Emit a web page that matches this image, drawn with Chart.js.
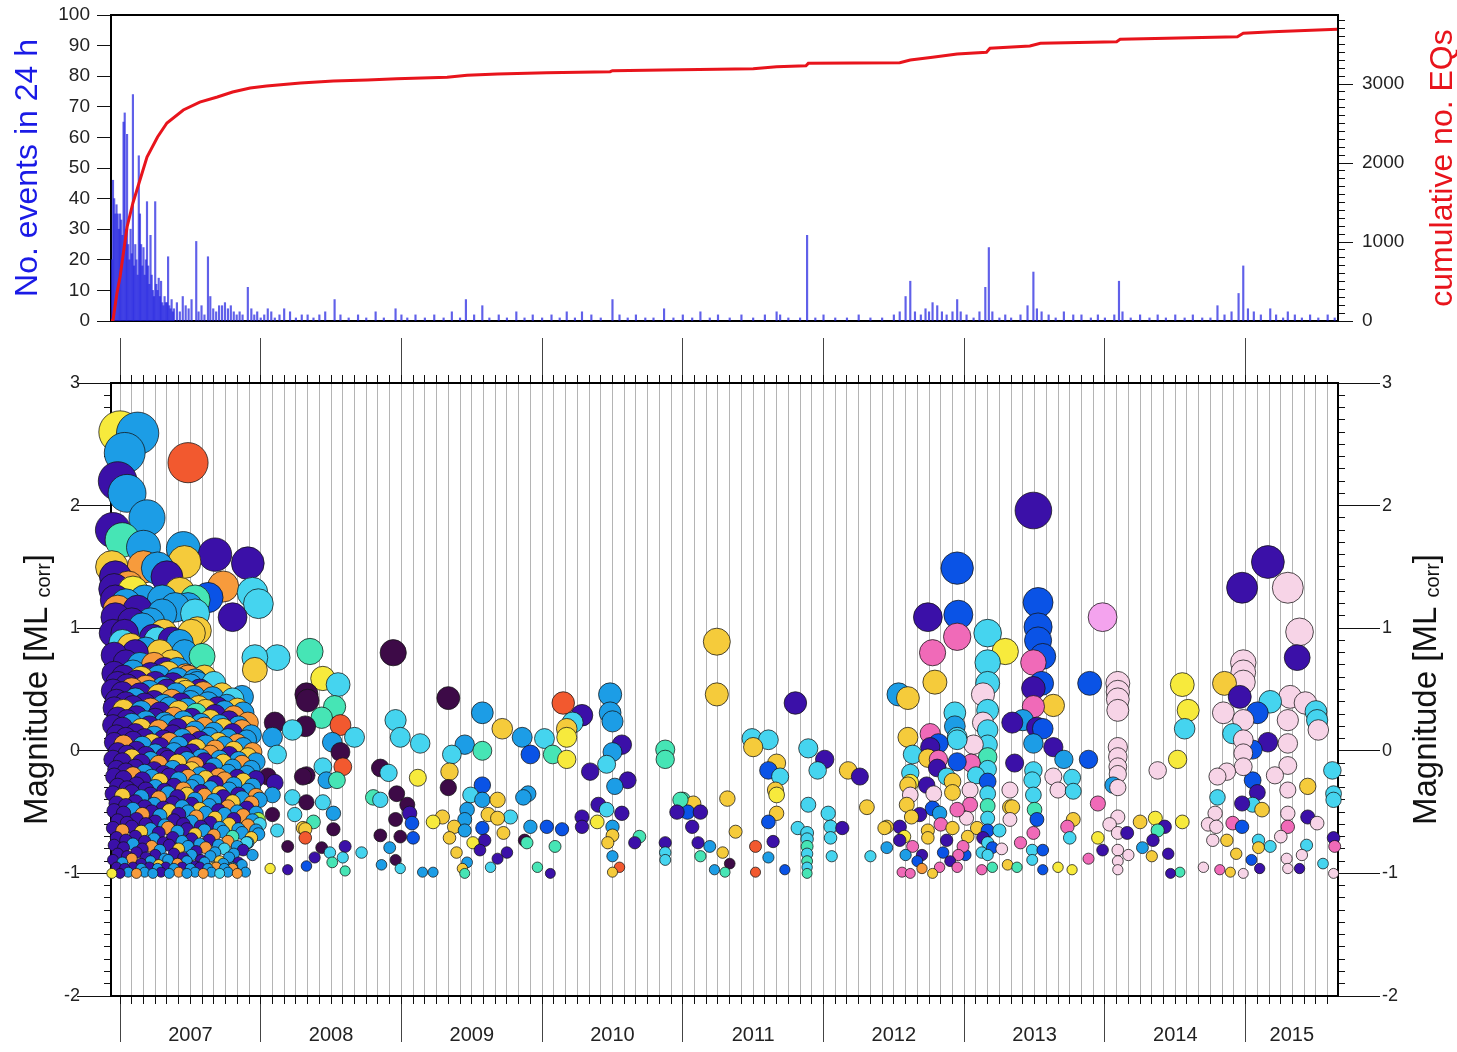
<!DOCTYPE html>
<html>
<head>
<meta charset="utf-8">
<title>Seismicity 2007-2015</title>
<script src="https://cdn.jsdelivr.net/npm/chart.js@4.4.1/dist/chart.umd.min.js"></script>
<style>
  html, body { margin: 0; padding: 0; background: #fff; }
  #wrap { position: relative; width: 1457px; height: 1052px; }
  #countsBox { position: absolute; left: 0; top: 0; width: 1457px; height: 330px; }
  #magBox { position: absolute; left: 0; top: 330px; width: 1457px; height: 722px; }
</style>
</head>
<body>
<div id="wrap">
  <div id="countsBox"><canvas id="countsChart"></canvas></div>
  <div id="magBox"><canvas id="magChart"></canvas></div>
</div>
<script>
(function () {
  "use strict";

  // time axis is in months since 1 Jan 2007
  const X_MIN = -0.77;
  const X_MAX = 103.88;
  const Y2_MAX = 3874;

  const yearLabels = ["2007", "2008", "2009", "2010", "2011", "2012", "2013", "2014", "2015"];
  const countTicks = [0, 10, 20, 30, 40, 50, 60, 70, 80, 90, 100];
  const cumulativeTicks = [0, 1000, 2000, 3000];
  const magnitudeTicks = [-2, -1, 0, 1, 2, 3];

  // events in 24 h: [month, count]
  const dailyCounts = [
    [-0.7,20],[-0.6,46],[-0.5,40],[-0.4,35],[-0.3,38],[-0.2,35],[-0.1,30],[0.0,35],[0.1,33],[0.2,28],
    [0.3,65],[0.4,68],[0.5,30],[0.6,61],[0.7,25],[0.8,20],[0.9,30],[1.0,22],[1.1,74],[1.2,18],
    [1.3,25],[1.4,20],[1.5,15],[1.6,54],[1.7,35],[1.8,25],[1.9,18],[2.0,24],[2.1,15],[2.2,20],
    [2.3,39],[2.4,18],[2.5,12],[2.6,28],[2.7,15],[2.8,10],[2.9,8],[3.0,39],[3.1,12],[3.2,10],
    [3.3,14],[3.4,8],[3.5,13],[3.6,6],[3.7,5],[3.8,8],[3.9,6],[4.0,6],[4.1,21],[4.2,5],
    [4.3,4],[4.4,7],[4.5,3],[4.6,4],[4.85,6],[5.1,3],[5.35,8],[5.6,5],[5.85,4],[6.1,7],
    [6.5,26],[6.7,3],[6.95,5],[7.2,2],[7.5,21],[7.7,8],[7.95,4],[8.2,3],[8.45,5],[8.7,5],
    [8.95,6],[9.2,4],[9.45,5],[9.7,3],[9.95,2],[10.2,3],[10.45,2],[10.9,11],[11.2,4],[11.45,2],
    [11.7,3],[12.0,1],[12.3,2],[12.6,4],[12.9,3],[13.2,1],[13.6,2],[14.0,4],[14.5,3],[15.0,1],
    [15.5,2],[16.0,2],[16.5,1],[17.0,2],[17.5,3],[18.3,7],[18.8,2],[19.5,1],[20.3,2],[21.0,1],
    [21.8,3],[22.5,1],[23.5,4],[24.0,2],[24.5,1],[25.2,2],[26.0,1],[26.8,2],[27.6,1],[28.3,3],
    [29.0,1],[29.5,7],[30.2,2],[30.9,5],[31.5,1],[32.3,2],[33.0,1],[33.8,3],[34.5,1],[35.2,2],
    [36.0,1],[36.8,2],[37.5,1],[38.1,3],[38.8,1],[39.4,3],[40.2,2],[41.0,1],[42.0,7],[42.6,2],
    [43.3,1],[44.0,2],[44.8,1],[45.5,1],[46.4,4],[47.2,1],[48.0,2],[48.8,1],[49.5,3],[50.3,1],
    [51.0,2],[52.0,1],[53.0,2],[54.0,1],[55.0,2],[56.0,3],[56.3,2],[57.0,1],[58.0,1],[58.6,28],
    [59.3,1],[60.0,2],[61.0,1],[62.0,1],[63.0,2],[64.0,1],[65.0,1],[66.0,2],[66.5,3],[67.0,8],
    [67.4,13],[67.8,3],[68.3,2],[68.7,4],[69.0,3],[69.3,6],[69.7,5],[70.1,3],[70.5,2],[71.0,3],
    [71.4,7],[71.7,3],[72.2,2],[72.8,1],[73.3,3],[73.8,11],[74.1,24],[74.4,3],[75.0,1],[75.5,2],
    [76.0,1],[76.8,2],[77.4,5],[77.9,16],[78.2,4],[78.6,3],[79.2,2],[79.8,1],[80.5,3],[81.3,2],
    [82.0,2],[82.8,1],[83.4,2],[84.0,1],[84.8,2],[85.2,13],[85.5,3],[86.2,1],[87.0,2],[87.8,1],
    [88.5,2],[89.2,1],[90.0,2],[90.8,1],[91.5,2],[92.3,1],[93.0,1],[93.6,5],[94.2,2],[94.8,3],
    [95.4,9],[95.8,18],[96.2,4],[96.7,3],[97.3,2],[98.1,4],[98.6,2],[99.2,1],[99.6,3],[100.2,2],
    [100.8,1],[101.5,2],[102.2,1],[103.0,2],[103.6,1]
  ];

  // cumulative number of earthquakes: [month, total]
  const cumulativeCount = [
    [-0.77,0],[-0.6,13],[-0.26,354],[0.0,557],[0.6,1190],[1.1,1494],[1.7,1785],[2.3,2076],
    [3.2,2330],[4.0,2507],[5.4,2671],[6.8,2772],[8.3,2836],[9.6,2899],[11.1,2950],[12.5,2975],
    [15.4,3013],[18.2,3038],[21.1,3051],[23.6,3068],[27.9,3085],[29.6,3110],[32.2,3127],
    [36.4,3143],[41.8,3156],[42.0,3169],[46.3,3178],[54.0,3194],[56.0,3219],[58.5,3232],
    [58.7,3262],[66.5,3270],[67.4,3304],[69.3,3338],[71.4,3380],[73.9,3402],[74.2,3452],
    [77.6,3481],[78.5,3515],[85.0,3536],[85.3,3566],[95.3,3599],[95.8,3642],[98.3,3663],[103.8,3693]
  ];

  // events: [month, magnitude, colour class]
  const quakes2007 = [
    [0.0,2.6,"Y"],[1.5,2.59,"S"],[0.4,2.43,"S"],[5.8,2.35,"R"],[-0.2,2.2,"I"],[0.6,2.1,"S"],
    [2.3,1.9,"S"],[-0.6,1.8,"I"],[0.2,1.72,"A"],[2.0,1.66,"S"],[5.4,1.65,"S"],[5.5,1.54,"G"],
    [8.1,1.6,"I"],[10.9,1.53,"I"],[-0.7,1.5,"G"],[3.2,1.49,"S"],[2.0,1.5,"O"],[-0.4,1.42,"I"],
    [4.0,1.42,"I"],[8.8,1.34,"O"],[0.7,1.34,"O"],[1.1,1.3,"Y"],[-0.5,1.32,"I"],[5.1,1.29,"G"],
    [11.3,1.29,"C"],[7.5,1.25,"B"],[6.4,1.23,"A"],[-0.4,1.23,"I"],[2.1,1.23,"S"],[3.6,1.23,"S"],
    [11.8,1.2,"C"],[0.5,1.2,"S"],[5.8,1.17,"S"],[4.7,1.17,"S"],[-0.2,1.15,"O"],[1.5,1.15,"I"],
    [6.4,1.12,"C"],[3.6,1.12,"S"],[9.6,1.09,"I"],[-0.4,1.09,"I"],[2.6,1.05,"S"],[1.0,1.05,"I"],
    [1.9,1.01,"S"],[6.6,0.98,"G"],[6.1,0.96,"G"],[3.7,0.96,"G"],[-0.6,0.96,"I"],[0.4,0.96,"I"],
    [2.8,0.92,"I"],[3.2,0.9,"C"],[4.4,0.9,"I"],[5.1,0.88,"S"],[0.2,0.88,"C"],[0.9,0.85,"G"],
    [2.2,0.82,"S"],[5.5,0.8,"S"],[3.4,0.8,"G"],[1.3,0.8,"I"],[-0.5,0.78,"I"],[7.0,0.77,"A"],
    [11.5,0.76,"C"],[4.4,0.72,"G"],[0.5,0.72,"I"],[1.7,0.7,"S"],[2.9,0.7,"O"],[3.8,0.66,"I"],
    [4.9,0.66,"S"],[11.5,0.66,"G"],[5.8,0.6,"O"],[6.6,0.55,"S"],
    [-0.5,0.63,"I"],[0.3,0.6,"I"],[1.1,0.64,"S"],[1.8,0.59,"G"],[2.6,0.62,"I"],[3.3,0.6,"S"],
    [4.1,0.63,"G"],[4.9,0.58,"S"],[5.6,0.61,"O"],[6.4,0.57,"S"],[7.2,0.6,"G"],[8.0,0.55,"C"],
    [-0.6,0.49,"I"],[0.2,0.47,"I"],[1.0,0.5,"O"],[1.7,0.46,"I"],[2.5,0.48,"S"],[3.3,0.45,"G"],
    [4.0,0.49,"I"],[4.8,0.46,"S"],[5.6,0.48,"G"],[6.3,0.44,"S"],[7.1,0.47,"O"],[7.9,0.43,"S"],
    [8.7,0.46,"G"],[9.6,0.42,"C"],[10.4,0.44,"S"],
    [-0.5,0.35,"I"],[0.3,0.33,"G"],[1.1,0.36,"I"],[1.8,0.32,"S"],[2.6,0.34,"O"],[3.4,0.31,"I"],
    [4.2,0.35,"S"],[5.0,0.32,"G"],[5.7,0.34,"S"],[6.5,0.3,"A"],[7.3,0.33,"G"],[8.1,0.29,"I"],
    [8.9,0.32,"S"],[9.7,0.28,"O"],[10.5,0.31,"S"],
    [-0.6,0.21,"I"],[0.2,0.19,"I"],[1.0,0.22,"S"],[1.8,0.18,"G"],[2.5,0.2,"I"],[3.3,0.17,"O"],
    [4.1,0.21,"S"],[4.9,0.18,"I"],[5.7,0.2,"G"],[6.4,0.16,"S"],[7.2,0.19,"O"],[8.0,0.15,"S"],
    [8.8,0.18,"G"],[9.6,0.14,"I"],[10.4,0.17,"O"],[11.2,0.13,"S"],
    [-0.5,0.07,"I"],[0.3,0.05,"O"],[1.1,0.08,"I"],[1.9,0.04,"S"],[2.7,0.06,"G"],[3.4,0.03,"I"],
    [4.2,0.07,"O"],[5.0,0.04,"S"],[5.8,0.06,"I"],[6.5,0.02,"G"],[7.3,0.05,"S"],[8.1,0.01,"O"],
    [8.9,0.04,"S"],[9.7,0.0,"G"],[10.5,0.03,"S"],[11.3,-0.01,"O"],
    [-0.6,-0.07,"I"],[0.2,-0.09,"I"],[1.0,-0.06,"G"],[1.8,-0.1,"I"],[2.6,-0.08,"S"],[3.3,-0.11,"O"],
    [4.1,-0.07,"I"],[4.9,-0.1,"G"],[5.7,-0.08,"S"],[6.4,-0.12,"O"],[7.2,-0.09,"I"],[8.0,-0.13,"S"],
    [8.8,-0.1,"G"],[9.6,-0.14,"S"],[10.4,-0.11,"O"],[11.2,-0.15,"S"],
    [-0.5,-0.21,"I"],[0.3,-0.23,"I"],[1.1,-0.2,"O"],[1.9,-0.24,"I"],[2.7,-0.22,"S"],[3.4,-0.25,"G"],
    [4.2,-0.21,"I"],[5.0,-0.24,"S"],[5.8,-0.22,"O"],[6.5,-0.26,"S"],[7.3,-0.23,"G"],[8.1,-0.27,"I"],
    [8.9,-0.24,"O"],[9.7,-0.28,"S"],[10.5,-0.25,"G"],[11.3,-0.29,"S"],
    [-0.6,-0.35,"I"],[0.2,-0.37,"G"],[1.0,-0.34,"I"],[1.8,-0.38,"S"],[2.6,-0.36,"I"],[3.3,-0.39,"O"],
    [4.1,-0.35,"S"],[4.9,-0.38,"I"],[5.7,-0.36,"G"],[6.4,-0.4,"S"],[7.2,-0.37,"O"],[8.0,-0.41,"S"],
    [8.8,-0.38,"I"],[9.6,-0.42,"G"],[10.4,-0.39,"S"],[11.2,-0.43,"O"],[11.9,-0.4,"S"],
    [-0.5,-0.49,"I"],[0.3,-0.51,"I"],[1.1,-0.48,"S"],[1.9,-0.52,"O"],[2.7,-0.5,"I"],[3.4,-0.53,"S"],
    [4.2,-0.49,"G"],[5.0,-0.52,"I"],[5.8,-0.5,"S"],[6.5,-0.54,"O"],[7.3,-0.51,"S"],[8.1,-0.55,"G"],
    [8.9,-0.52,"S"],[9.7,-0.56,"I"],[10.5,-0.53,"O"],[11.3,-0.57,"S"],[11.9,-0.6,"C"],
    [-0.6,-0.63,"I"],[0.2,-0.65,"O"],[1.0,-0.62,"I"],[1.8,-0.66,"G"],[2.6,-0.64,"S"],[3.3,-0.67,"I"],
    [4.1,-0.63,"O"],[4.9,-0.66,"S"],[5.7,-0.64,"I"],[6.4,-0.68,"G"],[7.2,-0.65,"S"],[8.0,-0.69,"O"],
    [8.8,-0.66,"S"],[9.6,-0.7,"A"],[10.4,-0.67,"S"],[11.2,-0.71,"G"],[11.8,-0.68,"S"],
    [-0.5,-0.77,"I"],[0.3,-0.79,"I"],[1.1,-0.76,"S"],[1.9,-0.8,"I"],[2.7,-0.78,"O"],[3.4,-0.81,"S"],
    [4.2,-0.77,"I"],[5.0,-0.8,"G"],[5.8,-0.78,"S"],[6.5,-0.82,"I"],[7.3,-0.79,"O"],[8.1,-0.83,"S"],
    [8.9,-0.8,"C"],[9.7,-0.84,"S"],[10.5,-0.81,"I"],[11.3,-0.85,"S"],
    [-0.6,-0.89,"I"],[0.2,-0.91,"S"],[1.0,-0.88,"O"],[1.8,-0.92,"I"],[2.6,-0.9,"S"],[3.3,-0.93,"G"],
    [4.1,-0.89,"S"],[4.9,-0.92,"O"],[5.7,-0.9,"S"],[6.4,-0.94,"I"],[7.2,-0.91,"S"],[8.0,-0.95,"G"],
    [8.8,-0.92,"S"],[9.6,-0.96,"O"],[10.4,-0.93,"S"],
    [0.0,-1.0,"I"],[0.7,-0.99,"S"],[1.4,-1.0,"O"],[2.1,-0.99,"S"],[2.8,-1.0,"S"],[3.5,-0.99,"I"],
    [4.2,-1.0,"S"],[5.0,-0.99,"O"],[5.7,-1.0,"S"],[6.4,-0.99,"S"],[7.1,-1.0,"O"],[7.8,-0.99,"S"],
    [8.5,-1.0,"C"],[9.2,-0.99,"S"],[10.0,-1.0,"O"],[10.7,-0.99,"S"],[-0.7,-1.0,"Y"],
    [11.8,-0.56,"N"],[10.9,-0.75,"S"]
  ];

  // the dense aftershock swarm in early 2007, in between the rows above
  const quakes2007Swarm = [
    [-0.2,0.55,"I"],[0.6,0.53,"I"],[1.4,0.56,"I"],[2.2,0.52,"O"],[3.0,0.55,"I"],[3.7,0.51,"S"],
    [4.5,0.54,"I"],[5.3,0.5,"G"],[6.0,0.53,"S"],[6.8,0.49,"I"],
    [-0.3,0.41,"I"],[0.5,0.39,"I"],[1.3,0.42,"S"],[2.1,0.38,"I"],[2.9,0.4,"I"],[3.7,0.37,"S"],
    [4.4,0.41,"O"],[5.2,0.38,"I"],[6.0,0.4,"S"],[6.7,0.36,"G"],[7.5,0.39,"S"],[8.3,0.35,"I"],
    [9.1,0.37,"S"],[10.0,0.34,"G"],
    [-0.2,0.27,"I"],[0.6,0.25,"I"],[1.4,0.28,"I"],[2.2,0.24,"S"],[3.0,0.26,"I"],[3.8,0.23,"S"],
    [4.6,0.27,"O"],[5.4,0.24,"S"],[6.1,0.26,"I"],[6.9,0.22,"S"],[7.7,0.25,"G"],[8.5,0.21,"S"],
    [9.3,0.24,"I"],[10.1,0.2,"S"],[10.9,0.23,"O"],
    [-0.3,0.13,"I"],[0.5,0.11,"I"],[1.3,0.14,"I"],[2.1,0.1,"I"],[2.9,0.12,"S"],[3.7,0.09,"I"],
    [4.5,0.13,"I"],[5.3,0.1,"S"],[6.1,0.12,"O"],[6.8,0.08,"I"],[7.6,0.11,"S"],[8.4,0.07,"G"],
    [9.2,0.1,"S"],[10.0,0.06,"O"],[10.8,0.09,"S"],
    [-0.2,-0.01,"I"],[0.6,-0.03,"I"],[1.4,0.0,"I"],[2.2,-0.04,"I"],[3.0,-0.02,"S"],[3.8,-0.05,"I"],
    [4.6,-0.01,"S"],[5.4,-0.04,"I"],[6.1,-0.02,"I"],[6.9,-0.06,"S"],[7.7,-0.03,"O"],[8.5,-0.07,"S"],
    [9.3,-0.04,"I"],[10.1,-0.08,"S"],[10.9,-0.05,"G"],[11.6,-0.09,"S"],
    [-0.3,-0.15,"I"],[0.5,-0.17,"I"],[1.3,-0.14,"I"],[2.1,-0.18,"S"],[2.9,-0.16,"I"],[3.7,-0.19,"I"],
    [4.5,-0.15,"S"],[5.3,-0.18,"I"],[6.1,-0.16,"G"],[6.8,-0.2,"S"],[7.6,-0.17,"I"],[8.4,-0.21,"O"],
    [9.2,-0.18,"S"],[10.0,-0.22,"I"],[10.8,-0.19,"S"],[11.6,-0.23,"I"],
    [-0.2,-0.29,"I"],[0.6,-0.31,"I"],[1.4,-0.28,"I"],[2.2,-0.32,"I"],[3.0,-0.3,"S"],[3.8,-0.33,"I"],
    [4.6,-0.29,"I"],[5.4,-0.32,"O"],[6.1,-0.3,"S"],[6.9,-0.34,"I"],[7.7,-0.31,"S"],[8.5,-0.35,"G"],
    [9.3,-0.32,"S"],[10.1,-0.36,"I"],[10.9,-0.33,"S"],[11.6,-0.37,"O"],
    [-0.3,-0.43,"I"],[0.5,-0.45,"I"],[1.3,-0.42,"I"],[2.1,-0.46,"I"],[2.9,-0.44,"S"],[3.7,-0.47,"I"],
    [4.5,-0.43,"I"],[5.3,-0.46,"S"],[6.1,-0.44,"I"],[6.8,-0.48,"G"],[7.6,-0.45,"S"],[8.4,-0.49,"I"],
    [9.2,-0.46,"O"],[10.0,-0.5,"S"],[10.8,-0.47,"I"],[11.6,-0.51,"S"],
    [-0.2,-0.57,"I"],[0.6,-0.59,"I"],[1.4,-0.56,"I"],[2.2,-0.6,"I"],[3.0,-0.58,"I"],[3.8,-0.61,"S"],
    [4.6,-0.57,"I"],[5.4,-0.6,"I"],[6.1,-0.58,"S"],[6.9,-0.62,"I"],[7.7,-0.59,"I"],[8.5,-0.63,"S"],
    [9.3,-0.6,"G"],[10.1,-0.64,"S"],[10.9,-0.61,"O"],[11.6,-0.65,"S"],
    [-0.3,-0.71,"I"],[0.5,-0.73,"I"],[1.3,-0.7,"I"],[2.1,-0.74,"I"],[2.9,-0.72,"S"],[3.7,-0.75,"I"],
    [4.5,-0.71,"I"],[5.3,-0.74,"S"],[6.1,-0.72,"I"],[6.8,-0.76,"S"],[7.6,-0.73,"I"],[8.4,-0.77,"S"],
    [9.2,-0.74,"O"],[10.0,-0.78,"S"],[10.8,-0.75,"C"],
    [-0.2,-0.84,"I"],[0.6,-0.86,"I"],[1.4,-0.83,"I"],[2.2,-0.87,"I"],[3.0,-0.85,"I"],[3.8,-0.88,"S"],
    [4.6,-0.84,"I"],[5.4,-0.87,"I"],[6.1,-0.85,"S"],[6.9,-0.89,"I"],[7.7,-0.86,"S"],[8.5,-0.9,"G"],
    [9.3,-0.87,"S"],[10.1,-0.91,"I"],
    [-0.3,-0.95,"I"],[0.4,-0.96,"I"],[1.1,-0.95,"I"],[1.8,-0.96,"S"],[2.5,-0.95,"I"],[3.2,-0.96,"S"],
    [3.9,-0.95,"I"],[4.6,-0.96,"S"],[5.3,-0.95,"I"],[6.0,-0.96,"S"],[6.8,-0.95,"I"],[7.5,-0.96,"S"],
    [8.2,-0.95,"O"],[8.9,-0.96,"S"],[9.6,-0.95,"S"]
  ];

  const quakes2008 = [
    [16.2,0.81,"A"],[17.3,0.59,"Y"],[18.6,0.54,"C"],[15.9,0.46,"P"],[18.3,0.36,"A"],[17.2,0.27,"A"],
    [18.8,0.21,"R"],[15.8,0.2,"P"],[18.1,0.07,"S"],[20.0,0.11,"C"],[18.8,-0.01,"P"],[19.0,-0.13,"R"],
    [17.6,-0.24,"S"],[15.9,-0.2,"P"],[18.5,-0.24,"A"],[17.3,-0.13,"C"],[15.9,-0.42,"P"],[17.3,-0.42,"C"],
    [18.2,-0.51,"S"],[18.2,-0.64,"P"],[16.5,-0.58,"A"],[15.8,-0.64,"G"],[15.8,-0.71,"R"],[17.2,-0.79,"P"],
    [19.2,-0.78,"I"],[17.9,-0.83,"C"],[16.6,-0.87,"I"],[19.0,-0.87,"C"],[15.9,-0.94,"B"],[19.2,-0.98,"A"],
    [20.6,-0.83,"C"],[18.1,-0.91,"A"],[23.3,0.8,"P"],[23.5,0.25,"C"],[23.9,0.11,"C"],[22.2,-0.14,"P"],
    [22.9,-0.18,"C"],[21.6,-0.38,"A"],[22.2,-0.4,"C"],[23.6,-0.35,"P"],[23.5,-0.56,"P"],[22.2,-0.69,"P"],
    [23.9,-0.7,"P"],[23.0,-0.79,"S"],[23.5,-0.89,"P"],[22.3,-0.93,"S"],[23.9,-0.96,"C"],
    [13.2,0.23,"P"],[13.0,0.11,"S"],[14.7,0.17,"C"],[13.4,-0.03,"C"],[16.0,0.41,"P"],[15.6,-0.21,"P"],
    [12.6,-0.21,"P"],[13.2,-0.26,"I"],[13.0,-0.36,"S"],[14.7,-0.38,"C"],[14.9,-0.52,"C"],[15.6,-0.63,"G"],
    [14.3,-0.78,"P"],[14.3,-0.97,"I"],[12.8,-0.96,"Y"],[13.0,-0.52,"P"],[13.4,-0.65,"C"],[13.4,0.76,"C"]
  ];

  const quakes2009 = [
    [25.6,0.06,"C"],[24.5,-0.44,"P"],[24.7,-0.51,"I"],[24.9,-0.59,"B"],[25.0,-0.71,"B"],[25.8,-0.99,"S"],
    [26.7,-0.99,"S"],[25.4,-0.22,"Y"],[26.7,-0.58,"Y"],[27.5,-0.54,"G"],[28.0,0.43,"P"],[30.9,0.31,"S"],
    [32.6,0.18,"G"],[28.3,-0.03,"C"],[29.4,0.05,"S"],[30.9,0.0,"A"],[28.1,-0.17,"G"],[28.0,-0.3,"P"],
    [30.9,-0.28,"B"],[30.9,-0.4,"S"],[32.2,-0.4,"G"],[29.6,-0.48,"S"],[33.3,-0.54,"C"],[32.2,-0.55,"G"],
    [30.9,-0.63,"B"],[32.7,-0.67,"G"],[29.4,-0.56,"S"],[28.1,-0.71,"G"],[28.7,-0.83,"G"],[31.1,-0.73,"I"],
    [30.7,-0.81,"I"],[32.2,-0.88,"I"],[33.0,-0.83,"I"],[29.6,-0.91,"S"],[29.4,-1.0,"A"],[31.6,-0.95,"C"],
    [29.2,-0.96,"G"],[29.4,-0.65,"S"],[34.3,0.11,"S"],[35.0,-0.03,"B"],[34.4,-0.38,"S"],[34.8,-0.35,"S"],
    [35.0,-0.62,"S"],[34.7,-0.75,"A"],[34.5,-0.73,"P"],[35.6,-0.95,"A"],[28.5,-0.62,"G"],[29.9,-0.36,"C"],
    [31.4,-0.52,"G"],[30.1,-0.75,"Y"]
  ];

  const quakes2010 = [
    [36.2,0.1,"C"],[38.1,0.11,"Y"],[38.1,0.18,"G"],[37.8,0.39,"R"],[39.4,0.29,"I"],[38.6,0.23,"C"],
    [36.9,-0.03,"A"],[38.1,-0.07,"Y"],[41.8,0.46,"S"],[41.8,0.31,"S"],[42.0,0.24,"S"],[42.8,0.05,"I"],
    [42.0,-0.01,"S"],[41.5,-0.11,"C"],[40.1,-0.17,"I"],[43.3,-0.24,"I"],[42.2,-0.29,"S"],[36.4,-0.62,"B"],
    [37.7,-0.64,"B"],[37.1,-0.78,"A"],[36.7,-1.0,"I"],[39.4,-0.54,"I"],[39.4,-0.62,"I"],[40.8,-0.44,"I"],
    [40.7,-0.58,"Y"],[41.5,-0.48,"C"],[42.8,-0.51,"I"],[42.0,-0.62,"S"],[42.0,-0.69,"G"],[41.6,-0.75,"G"],
    [42.0,-0.86,"S"],[42.0,-0.99,"G"],[42.6,-0.95,"R"],[43.9,-0.75,"I"],[44.3,-0.7,"A"],[46.5,0.01,"A"],
    [46.5,-0.07,"A"],[46.5,-0.75,"I"],[46.5,-0.83,"C"],[46.5,-0.89,"C"],[47.8,-0.4,"A"],[47.5,-0.5,"I"]
  ];

  const quakes2011 = [
    [48.0,-0.4,"A"],[48.4,-0.5,"B"],[49.5,-0.5,"I"],[48.9,-0.43,"G"],[48.8,-0.62,"I"],[49.3,-0.75,"I"],
    [50.3,-0.78,"S"],[49.5,-0.86,"A"],[51.4,-0.83,"G"],[52.0,-0.92,"P"],[50.7,-0.97,"S"],[51.6,-0.99,"A"],
    [50.9,0.89,"G"],[50.9,0.46,"G"],[57.6,0.39,"I"],[55.3,0.09,"C"],[54.0,0.03,"G"],[53.9,0.1,"C"],
    [56.0,-0.1,"G"],[55.3,-0.16,"B"],[56.3,-0.21,"C"],[55.9,-0.32,"G"],[56.0,-0.36,"Y"],[56.0,-0.51,"G"],
    [55.3,-0.58,"B"],[55.7,-0.74,"I"],[55.3,-0.87,"S"],[54.2,-0.78,"R"],[54.2,-0.99,"R"],[56.7,-0.97,"B"],
    [51.8,-0.39,"G"],[52.5,-0.66,"G"],[58.7,0.02,"C"],[59.5,-0.16,"C"],[58.7,-0.44,"C"],[57.8,-0.63,"C"],
    [58.6,-0.67,"C"],[58.6,-0.72,"C"],[58.6,-0.78,"A"],[58.6,-0.84,"C"],[58.6,-0.9,"A"],[58.6,-0.95,"C"],
    [58.6,-1.0,"A"]
  ];

  const quakes2012 = [
    [60.1,-0.07,"I"],[60.4,-0.51,"C"],[60.6,-0.62,"C"],[60.6,-0.71,"C"],[61.6,-0.63,"I"],[60.7,-0.86,"C"],
    [62.1,-0.16,"G"],[63.1,-0.21,"I"],[63.7,-0.46,"G"],[64.0,-0.86,"C"],[65.2,-0.63,"G"],[65.4,-0.79,"S"],
    [68.9,1.09,"I"],[71.5,1.11,"B"],[71.4,1.49,"B"],[71.4,0.93,"M"],[69.3,0.8,"M"],[69.5,0.56,"G"],
    [66.4,0.46,"S"],[67.2,0.43,"G"],[67.2,0.11,"G"],[71.2,0.31,"C"],[71.2,0.2,"S"],[69.1,0.14,"M"],
    [69.8,0.06,"B"],[69.1,0.03,"I"],[71.4,0.09,"C"],[67.6,-0.03,"C"],[68.9,-0.06,"G"],[69.8,-0.07,"M"],
    [71.4,-0.09,"B"],[67.4,-0.18,"C"],[69.7,-0.14,"I"],[70.5,-0.21,"C"],[67.2,-0.28,"G"],[68.8,-0.28,"I"],
    [71.0,-0.25,"G"],[67.4,-0.36,"L"],[69.4,-0.35,"L"],[71.0,-0.34,"G"],[67.1,-0.44,"G"],[69.3,-0.47,"B"],
    [71.4,-0.48,"M"],[67.5,-0.54,"G"],[68.2,-0.52,"I"],[69.9,-0.51,"S"],[66.5,-0.62,"I"],[68.9,-0.65,"G"],
    [71.0,-0.63,"G"],[66.5,-0.73,"I"],[67.6,-0.78,"M"],[68.9,-0.71,"G"],[70.5,-0.73,"I"],[71.9,-0.78,"M"],
    [68.4,-0.85,"I"],[70.2,-0.83,"B"],[71.5,-0.85,"M"],[66.7,-0.99,"M"],[67.4,-1.0,"M"],[68.4,-0.96,"O"],
    [69.3,-1.0,"G"],[69.9,-0.95,"M"],[71.4,-0.95,"M"],[67.4,-0.26,"Y"],[71.4,0.11,"C"],[65.4,-0.62,"G"],
    [66.9,-0.7,"Y"],[70.0,-0.6,"M"],[68.0,-0.9,"B"],[70.8,-0.9,"I"],[67.0,-0.85,"S"]
  ];

  const quakes2013 = [
    [72.5,-0.32,"L"],[72.5,-0.44,"M"],[72.2,-0.55,"L"],[73.1,-0.63,"G"],[73.6,-0.71,"I"],[74.4,-0.79,"B"],
    [72.1,-0.85,"B"],[73.5,-0.83,"C"],[73.5,-0.97,"M"],[74.4,-0.95,"A"],[75.7,-0.93,"G"],[76.5,-0.95,"A"],
    [75.9,-0.46,"G"],[75.9,-0.56,"L"],[75.9,-0.32,"L"],[74.0,0.96,"C"],[75.5,0.81,"Y"],[74.0,0.72,"C"],
    [74.0,0.55,"C"],[73.6,0.46,"L"],[74.0,0.33,"C"],[74.0,0.17,"C"],[73.6,0.23,"L"],[76.1,0.23,"I"],
    [76.3,-0.1,"I"],[74.0,0.05,"C"],[74.0,-0.05,"A"],[74.0,-0.15,"C"],[74.0,-0.25,"B"],[74.0,-0.35,"C"],
    [74.0,-0.45,"A"],[74.0,-0.55,"C"],[74.0,-0.65,"B"],[74.0,-0.75,"C"],[74.0,-0.85,"C"],
    [77.9,1.96,"I"],[78.3,1.21,"B"],[78.3,1.01,"B"],[78.3,0.9,"B"],[78.7,0.77,"B"],[77.9,0.72,"M"],
    [77.9,0.51,"I"],[77.9,0.36,"M"],[79.6,0.37,"G"],[78.6,0.55,"B"],[77.0,0.25,"S"],[78.2,0.19,"I"],
    [78.7,0.18,"B"],[77.9,0.06,"S"],[79.6,0.03,"I"],[80.5,-0.07,"S"],[82.7,0.55,"B"],[82.6,-0.07,"B"],
    [77.9,-0.16,"C"],[79.6,-0.21,"L"],[81.2,-0.22,"C"],[80.0,-0.32,"L"],[81.3,-0.33,"C"],[83.8,1.09,"V"],
    [83.4,-0.43,"M"],[82.6,-0.88,"M"],[83.4,-0.71,"Y"],[81.0,-0.71,"C"],[80.8,-0.62,"M"],[81.3,-0.56,"G"],
    [80.0,-0.95,"Y"],[81.2,-0.97,"Y"],[76.1,-0.46,"G"],[77.8,-0.24,"C"],[77.9,-0.36,"C"],[78.0,-0.48,"A"],
    [78.2,-0.56,"B"],[77.9,-0.67,"M"],[77.8,-0.81,"C"],[77.8,-0.89,"C"],[78.7,-0.81,"B"],[78.7,-0.97,"B"],
    [72.8,0.05,"L"],[72.6,-0.1,"M"],[73.0,-0.2,"C"],[72.3,-0.7,"G"],[75.0,-0.65,"C"],[75.2,-0.8,"L"],
    [76.8,-0.75,"M"]
  ];

  const quakes2014 = [
    [84.7,-0.28,"S"],[85.1,0.55,"L"],[85.1,0.48,"L"],[85.1,0.42,"L"],[85.1,0.33,"L"],[85.1,0.03,"L"],
    [85.1,-0.05,"L"],[85.1,-0.13,"L"],[85.1,-0.19,"L"],[85.1,-0.3,"L"],[85.1,-0.54,"L"],[85.1,-0.67,"L"],
    [85.1,-0.81,"L"],[85.1,-0.9,"L"],[85.1,-0.97,"L"],[85.9,-0.67,"I"],[83.8,-0.81,"I"],[87.2,-0.79,"S"],
    [87.0,-0.58,"G"],[88.3,-0.55,"Y"],[89.1,-0.62,"I"],[88.5,-0.65,"A"],[88.1,-0.73,"I"],[88.0,-0.86,"G"],
    [89.4,-0.84,"I"],[89.6,-1.0,"I"],[90.4,-0.99,"A"],[90.6,-0.58,"Y"],[90.6,0.54,"Y"],[91.1,0.33,"Y"],
    [90.8,0.18,"C"],[90.2,-0.07,"Y"],[88.5,-0.16,"L"],[93.6,-0.21,"L"],[93.6,-0.38,"C"],[93.4,-0.51,"L"],
    [93.5,-0.62,"L"],[93.2,-0.73,"L"],[94.2,0.55,"G"],[95.7,1.33,"I"],[95.8,0.72,"L"],[95.8,0.64,"L"],
    [95.8,0.56,"L"],[95.5,0.44,"I"],[94.1,0.31,"L"],[95.8,0.25,"L"],[94.9,0.14,"C"],[95.8,0.09,"L"],
    [95.8,-0.02,"L"],[95.8,-0.13,"L"],[94.4,-0.17,"L"],[95.7,-0.43,"I"],[94.9,-0.59,"M"],[95.7,-0.62,"B"],
    [94.4,-0.73,"G"],[95.2,-0.84,"G"],[94.7,-0.99,"G"],[93.8,-0.97,"M"],[95.8,-1.0,"L"],[84.4,-0.6,"L"],
    [86.0,-0.85,"L"],[92.4,-0.95,"L"],[92.8,-0.6,"L"]
  ];

  const quakes2015 = [
    [97.9,1.54,"I"],[99.6,1.33,"L"],[100.6,0.97,"L"],[100.4,0.76,"I"],[97.0,0.31,"B"],[98.1,0.4,"C"],
    [99.8,0.44,"L"],[101.1,0.39,"L"],[102.0,0.32,"C"],[102.1,0.25,"C"],[102.2,0.17,"L"],[99.6,0.25,"L"],
    [99.6,0.06,"L"],[99.6,-0.12,"L"],[97.9,0.07,"I"],[96.6,0.01,"B"],[96.6,-0.24,"B"],[97.0,-0.34,"I"],
    [99.6,-0.32,"L"],[101.3,-0.29,"G"],[101.3,-0.54,"I"],[102.1,-0.59,"L"],[99.6,-0.51,"L"],[99.6,-0.62,"M"],
    [101.2,-0.77,"C"],[100.8,-0.85,"L"],[99.5,-0.88,"L"],[99.6,-0.96,"L"],[100.6,-0.96,"I"],[98.1,-0.78,"C"],
    [97.1,-0.73,"C"],[97.4,-0.48,"G"],[96.6,-0.44,"C"],[96.5,-0.89,"B"],[97.2,-0.96,"I"],[97.1,-0.79,"G"],
    [103.4,-0.16,"C"],[103.5,-0.35,"C"],[103.5,-0.4,"C"],[103.5,-0.71,"I"],[103.6,-0.78,"M"],[103.5,-1.0,"L"],
    [102.6,-0.92,"C"],[98.5,-0.2,"L"],[99.0,-0.7,"L"]
  ];

  const palette = {
    P: "#3d0a47", I: "#3b10a8", B: "#0a53e6", S: "#1c9de6", C: "#45d4ef", A: "#46e5b5", Y: "#f7ea3c",
    G: "#f5cb3b", O: "#f79b3c", R: "#f2592f", M: "#f06ab8", L: "#f7d4e7", V: "#f4a3ee", N: "#a3ef4c"
  };

  const FONT = "'Liberation Sans', Arial, Helvetica, sans-serif";
  Chart.defaults.font.family = FONT;
  Chart.defaults.color = "#222";

  const monthTicks = Array.from({ length: 104 }, (_, m) => m);
  const yearStarts = yearLabels.map((_, i) => i * 12);
  const yearMids = yearStarts.map(s => (Math.max(s, X_MIN) + Math.min(s + 12, X_MAX)) / 2);
  const yearAxisTicks = yearStarts.concat(yearMids).sort((a, b) => a - b);
  const magMinorTicks = Array.from({ length: 51 }, (_, i) => -2 + i / 10);
  const cumMinorTicks = Array.from({ length: 39 }, (_, i) => i * 100);

  const setTicks = values => scale => { scale.ticks = values.map(v => ({ value: v })); };
  const radiusFor = m => 5 + 4.5 * (m + 1);
  // fixed axis width, and no extra room for the end labels
  const fixWidth = w => s => { s.width = w; s.paddingTop = 0; s.paddingBottom = 0; };

  // rotated axis titles, all reading bottom to top
  const sideTitles = {
    id: "sideTitles",
    afterDraw(chart, args, opts) {
      const { ctx, chartArea } = chart;
      const cy = (chartArea.top + chartArea.bottom) / 2;
      opts.items.forEach(t => {
        ctx.save();
        ctx.translate(t.x, cy);
        ctx.rotate(-Math.PI / 2);
        ctx.fillStyle = t.color;
        ctx.textBaseline = "alphabetic";
        const fonts = t.parts.map(p => (p.sub ? t.subSize : t.size) + "px " + FONT);
        const widths = t.parts.map((p, i) => { ctx.font = fonts[i]; return ctx.measureText(p.text).width; });
        let x = -widths.reduce((a, b) => a + b, 0) / 2;
        const base = t.size * 0.36;
        t.parts.forEach((p, i) => {
          ctx.font = fonts[i];
          ctx.fillText(p.text, x, base + (p.sub ? t.subShift : 0));
          x += widths[i];
        });
        ctx.restore();
      });
    }
  };

  const frame = { color: "#000", width: 2 };

  function renderCounts(el) {
    new Chart(el, {
      type: "bar",
      data: {
        datasets: [
          {
            type: "line", label: "cumulative", order: 0,
            data: cumulativeCount.map(([x, y]) => ({ x, y })),
            borderColor: "#e8141c", borderWidth: 3, pointRadius: 0, tension: 0,
            xAxisID: "x", yAxisID: "y2"
          },
          {
            type: "bar", label: "per day", order: 1,
            data: dailyCounts.map(([x, y]) => ({ x, y })),
            backgroundColor: "rgba(35,35,225,0.72)", barThickness: 1.5,
            xAxisID: "x", yAxisID: "y"
          }
        ]
      },
      options: {
        responsive: true, maintainAspectRatio: false, animation: false, events: [],
        layout: { autoPadding: false, padding: { top: 15, bottom: 9, left: 0, right: 0 } },
        plugins: {
          legend: { display: false }, tooltip: { enabled: false },
          sideTitles: { items: [
            { x: 25, color: "#1a1ae6", size: 32, parts: [{ text: "No. events in 24 h" }] },
            { x: 1440, color: "#e8141c", size: 32, parts: [{ text: "cumulative no. EQs" }] }
          ] }
        },
        scales: {
          x: { type: "linear", position: "bottom", min: X_MIN, max: X_MAX, offset: false,
               grid: { display: false, drawTicks: false }, ticks: { display: false }, border: frame },
          xTop: { type: "linear", position: "top", min: X_MIN, max: X_MAX, offset: false,
                  grid: { display: false, drawTicks: false }, ticks: { display: false }, border: frame },
          y: { type: "linear", position: "left", weight: 0, min: 0, max: 100,
               afterBuildTicks: setTicks(countTicks), afterFit: fixWidth(111),
               grid: { drawOnChartArea: false, tickLength: 14, tickColor: "#111" },
               ticks: { padding: 7, font: { size: 19 }, autoSkip: false }, border: frame },
          y2Minor: { type: "linear", position: "right", weight: 0, min: 0, max: Y2_MAX,
                     afterBuildTicks: setTicks(cumMinorTicks),
                     grid: { drawOnChartArea: false, tickLength: 7, tickColor: "#111" },
                     ticks: { display: false }, border: frame },
          y2: { type: "linear", position: "right", weight: 1, min: 0, max: Y2_MAX,
                afterBuildTicks: setTicks(cumulativeTicks), afterFit: fixWidth(112),
                grid: { drawOnChartArea: false, tickLength: 8, tickColor: "#111" },
                ticks: { padding: 9, font: { size: 19 }, autoSkip: false, callback: v => String(v) },
                border: { display: false } }
        }
      },
      plugins: [sideTitles]
    });
  }

  function renderMagnitudes(el) {
    const yearSets = [quakes2007.concat(quakes2007Swarm), quakes2008, quakes2009, quakes2010, quakes2011,
                      quakes2012, quakes2013, quakes2014, quakes2015];
    new Chart(el, {
      type: "bubble",
      data: {
        datasets: yearSets.map((set, i) => ({
          label: yearLabels[i],
          // bigger events first so the smaller ones stay visible on top
          data: set.slice().sort((a, b) => b[1] - a[1])
                   .map(([t, m, c]) => ({ x: t, y: m, r: radiusFor(m), c })),
          backgroundColor: ctx => (ctx.raw ? palette[ctx.raw.c] : "#888"),
          borderColor: "rgba(20,20,20,0.75)", borderWidth: 1, clip: false,
          xAxisID: "x", yAxisID: "y"
        }))
      },
      options: {
        responsive: true, maintainAspectRatio: false, animation: false, events: [],
        layout: { autoPadding: false, padding: { top: 8, bottom: 2, left: 0, right: 0 } },
        plugins: {
          legend: { display: false }, tooltip: { enabled: false },
          sideTitles: { items: [
            { x: 35, color: "#111", size: 33, subSize: 20, subShift: 3,
              parts: [{ text: "Magnitude [ML " }, { text: "corr", sub: true }, { text: "]" }] },
            { x: 1424, color: "#111", size: 33, subSize: 20, subShift: 3,
              parts: [{ text: "Magnitude [ML " }, { text: "corr", sub: true }, { text: "]" }] }
          ] }
        },
        scales: {
          x: { type: "linear", position: "bottom", weight: 0, min: X_MIN, max: X_MAX,
               afterBuildTicks: setTicks(monthTicks),
               grid: { color: "#b4b4b4", lineWidth: 1, tickLength: 8, tickColor: "#111" },
               ticks: { display: false }, border: frame },
          xYears: { type: "linear", position: "bottom", weight: 1, min: X_MIN, max: X_MAX,
                    afterBuildTicks: setTicks(yearAxisTicks), afterFit: s => { s.height = 46; },
                    grid: { drawOnChartArea: false, tickLength: 38,
                            tickColor: c => (c.tick && yearStarts.includes(c.tick.value) ? "#444" : "rgba(0,0,0,0)") },
                    ticks: { padding: -19, font: { size: 20 }, autoSkip: false, maxRotation: 0,
                             callback: v => { const i = yearMids.indexOf(v); return i >= 0 ? yearLabels[i] : ""; } },
                    border: { display: false } },
          xTop: { type: "linear", position: "top", weight: 0, min: X_MIN, max: X_MAX,
                  afterBuildTicks: setTicks(monthTicks),
                  grid: { drawOnChartArea: false, tickLength: 8, tickColor: "#111" },
                  ticks: { display: false }, border: frame },
          xTopYears: { type: "linear", position: "top", weight: 1, min: X_MIN, max: X_MAX,
                       afterBuildTicks: setTicks(yearStarts),
                       grid: { drawOnChartArea: false, tickLength: 37, tickColor: "#444" },
                       ticks: { display: false }, border: { display: false } },
          y: { type: "linear", position: "left", weight: 0, min: -2, max: 3,
               afterBuildTicks: setTicks(magMinorTicks),
               grid: { drawOnChartArea: false, tickLength: 7, tickColor: "#111" },
               ticks: { display: false }, border: frame },
          yLabels: { type: "linear", position: "left", weight: 1, min: -2, max: 3,
                     afterBuildTicks: setTicks(magnitudeTicks), afterFit: fixWidth(104),
                     grid: { drawOnChartArea: false, tickLength: 27, tickColor: "#111" },
                     ticks: { padding: -3, font: { size: 18 }, autoSkip: false }, border: { display: false } },
          yRight: { type: "linear", position: "right", weight: 0, min: -2, max: 3,
                    afterBuildTicks: setTicks(magMinorTicks),
                    grid: { drawOnChartArea: false, tickLength: 7, tickColor: "#111" },
                    ticks: { display: false }, border: frame },
          yRightLabels: { type: "linear", position: "right", weight: 1, min: -2, max: 3,
                          afterBuildTicks: setTicks(magnitudeTicks), afterFit: fixWidth(112),
                          grid: { drawOnChartArea: false, tickLength: 35, tickColor: "#111" },
                          ticks: { padding: 2, font: { size: 18 }, autoSkip: false }, border: { display: false } }
        }
      },
      plugins: [sideTitles]
    });
  }

  renderCounts(document.getElementById("countsChart"));
  renderMagnitudes(document.getElementById("magChart"));
})();
</script>
</body>
</html>
